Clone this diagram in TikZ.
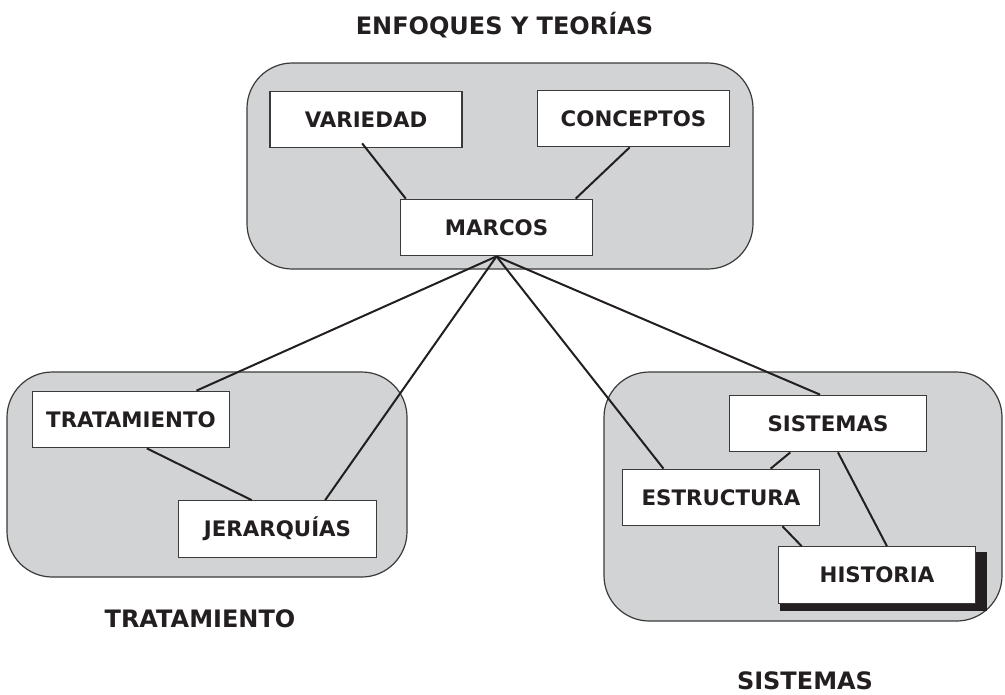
\documentclass[tikz,border=0pt]{standalone}
\usepackage{fontspec}
\setmainfont{DejaVu Sans}
\usetikzlibrary{calc}
\definecolor{ink}{HTML}{231F20}
\definecolor{groupfill}{HTML}{D1D3D4}
\definecolor{edge}{HTML}{3A3A3A}
\tikzset{
  grp/.style={draw=edge, line width=0.9pt, fill=groupfill, rounded corners=34pt},
  bx/.style={draw=edge, line width=0.8pt, fill=white, inner sep=0pt, text=ink,
    minimum width=148pt, minimum height=42.5pt, font=\fontsize{16}{19}\selectfont\bfseries},
  bxs/.style={bx, minimum width=144pt},
  ttl/.style={text=ink, inner sep=0pt, text depth=0pt, anchor=base,
    font=\fontsize{18}{21}\selectfont\bfseries},
  lnk/.style={draw=ink, line width=1.5pt},
}
\begin{document}
\begin{tikzpicture}[x=0.75pt,y=-0.75pt]
\useasboundingbox (0,0) rectangle (1005,694);
% groups
\draw[grp] (247,63) rectangle (753,269);
\draw[grp] (7,372) rectangle (407,577);
\draw[grp] (604,372) rectangle (1002,621);
% titles
\node[ttl] (t1) at (504.5,34) {ENFOQUES Y TEORÍAS};
\node[ttl] (t2) at (200,627) {TRATAMIENTO};
\node[ttl] (t3) at (805,689) {SISTEMAS};
% boxes
\node[bxs] (var) at (366,119.5) {VARIEDAD};
\node[bxs] (con) at (633.5,118.5) {CONCEPTOS};
\node[bxs] (mar) at (496.5,227.5) {MARCOS};
\node[bx] (tra) at (131,419.5) {TRATAMIENTO};
\node[bx] (jer) at (277.5,529) {JERARQUÍAS};
\node[bx] (sis) at (828,423.5) {SISTEMAS};
\node[bx] (est) at (721,497.5) {ESTRUCTURA};
\fill[ink] (780,552) rectangle (987,611);
\node[bx] (his) at (877,575) {HISTORIA};
% connectors
\draw[lnk] ($(var.south west)!0.48!(var.south east)+(0,3.75pt)$) -- ($(mar.north west)!0.03!(mar.north east)$);
\draw[lnk] ($(con.south west)!0.48!(con.south east)$) -- ($(mar.north west)!0.91!(mar.north east)$);
\draw[lnk] (mar.south) -- ($(tra.north west)!0.83!(tra.north east)$);
\draw[lnk] (mar.south) -- ($(jer.north west)!0.74!(jer.north east)$);
\draw[lnk] (mar.south) -- ($(est.north west)!0.21!(est.north east)$);
\draw[lnk] (mar.south) -- ($(sis.north west)!0.46!(sis.north east)$);
\draw[lnk] ($(tra.south west)!0.58!(tra.south east)$) -- ($(jer.north west)!0.37!(jer.north east)$);
\draw[lnk] ($(sis.south west)!0.31!(sis.south east)$) -- ($(est.north west)!0.75!(est.north east)$);
\draw[lnk] ($(sis.south west)!0.55!(sis.south east)$) -- ($(his.north west)!0.55!(his.north east)$);
\draw[lnk] ($(est.south west)!0.81!(est.south east)$) -- ($(his.north west)!0.12!(his.north east)$);
\end{tikzpicture}
\end{document}
